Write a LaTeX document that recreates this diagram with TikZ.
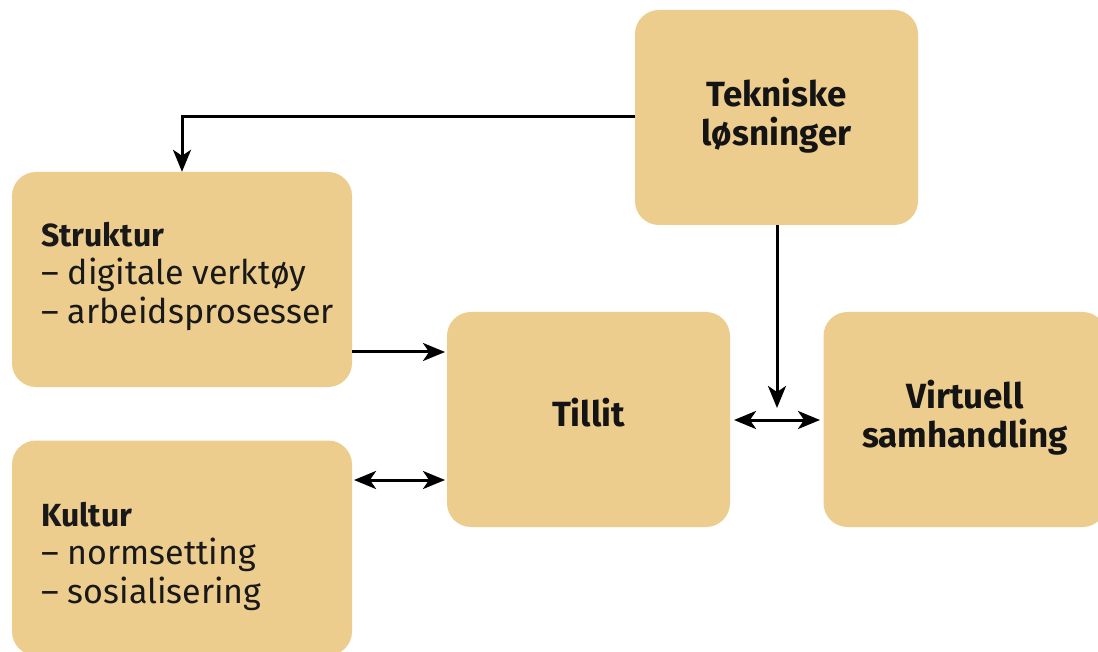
\documentclass[tikz,border=0pt]{standalone}
\usepackage{fontspec}
\setmainfont{Fira Sans}
\usetikzlibrary{arrows.meta}
\definecolor{boxfill}{HTML}{ECCD8E}
\tikzset{
  myhead/.tip={Stealth[length=22pt,width=18pt,inset=6pt]},
  conn/.style={draw=black,line width=3pt,-myhead},
  bconn/.style={draw=black,line width=3pt,myhead-myhead}}
\begin{document}
\begin{tikzpicture}[x=1pt,y=-1pt,
  box/.style={draw=none,fill=boxfill,rounded corners=24pt,minimum width=#1,inner sep=0pt},
  title/.style={font=\fontsize{35}{39}\selectfont\bfseries,align=center,text=black!92},
  listtext/.style={font=\fontsize{34}{38.5}\selectfont,align=left,anchor=west,inner sep=0pt,text=black!90}]
\useasboundingbox (0,0) rectangle (1098,652);
\fill[white] (0,0) rectangle (1098,652);
% boxes
\node[box=283pt,minimum height=215pt] (tek) at (776.5,117.5) {};
\node[box=340pt,minimum height=215pt] (str) at (182,279.5) {};
\node[box=340pt,minimum height=215pt] (kul) at (182,548) {};
\node[box=283pt,minimum height=215pt] (til) at (588.5,419.5) {};
\node[box=283pt,minimum height=215pt] (vir) at (965,419.5) {};
% texts
\node[title] (tektxt) at (776.5,116) {Tekniske\\løsninger};
\node[title] (tiltxt) at (588.5,413) {Tillit};
\node[title] (virtxt) at (965,418) {Virtuell\\samhandling};
\node[listtext] (strtxt) at (41,276) {{\fontsize{32}{38.5}\selectfont\bfseries Struktur}\\– digitale verktøy\\– arbeidsprosesser};
\node[listtext] (kultxt) at (41,556) {{\fontsize{32}{38.5}\selectfont\bfseries Kultur}\\– normsetting\\– sosialisering};
% connectors
\coordinate (c1) at (182,117);
\draw[conn] (tek.west |- c1) -- (c1) -- (str.north);
\coordinate (c2) at (777,408);
\draw[conn] (tek.south -| c2) -- (c2);
\coordinate (c3) at (445,352);
\draw[conn] (str.east |- c3) -- (c3);
\coordinate (c4a) at (354,480);
\coordinate (c4b) at (445,480);
\draw[bconn] (c4a) -- (c4b);
\coordinate (c5a) at (734,420);
\coordinate (c5b) at (820,420);
\draw[bconn] (c5a) -- (c5b);
\end{tikzpicture}
\end{document}
